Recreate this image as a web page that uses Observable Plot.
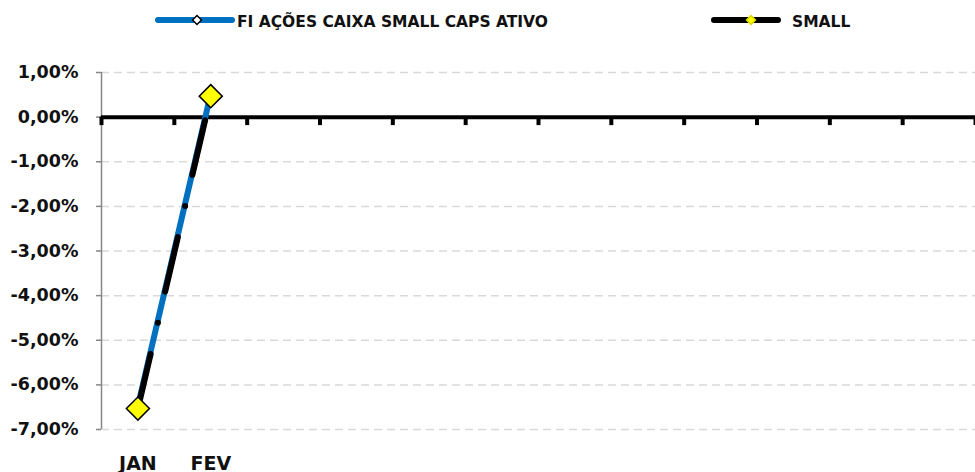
<!DOCTYPE html>
<html>
<head>
<meta charset="utf-8">
<script src="https://cdn.jsdelivr.net/npm/d3@7"></script>
<script src="https://cdn.jsdelivr.net/npm/@observablehq/plot@0.6"></script>
<style>
  html, body { margin: 0; padding: 0; background: #fff; }
  #legend { display: block; }
  #chart svg { overflow: visible; }
</style>
</head>
<body>
<svg id="legend" width="975" height="40"></svg>
<div id="chart"></div>
<script>
// ---- data ----
const months = ["JAN","FEV","MAR","ABR","MAI","JUN","JUL","AGO","SET","OUT","NOV","DEZ"];
const shownMonths = ["JAN","FEV"];
const fiName = "FI AÇÕES CAIXA SMALL CAPS ATIVO";
const smallName = "SMALL";
const fiValues = [-6.47, 0.52];
const smallValues = [-6.53, 0.47];
const yTicks = [-7, -6, -5, -4, -3, -2, -1, 0, 1];

// ---- derived tables ----
const fiData = shownMonths.map((m, i) => ({month: m, i: months.indexOf(m), v: fiValues[i]}));
const smallData = shownMonths.map((m, i) => ({month: m, i: months.indexOf(m), v: smallValues[i]}));
const boundaries = d3.range(months.length + 1).map(k => k - 0.5);
const fmt = v => v.toFixed(2).replace(".", ",") + "%";

const FONT = "DejaVu Sans, sans-serif";
const BLUE = "#0070C0";

// ---- legend ----
const leg = d3.select("#legend");
const legendItems = [
  {name: fiName, color: BLUE, x1: 158, x2: 232, mx: 197, mFill: "#ffffff", mStroke: "#000", mr: 4.5, tx: 237},
  {name: smallName, color: "#000", x1: 714, x2: 778, mx: 751, mFill: "#ffff00", mStroke: "#d8d800", mr: 4.5, tx: 792}
];
for (const it of legendItems) {
  leg.append("line").attr("x1", it.x1).attr("x2", it.x2).attr("y1", 20).attr("y2", 20)
    .attr("stroke", it.color).attr("stroke-width", 6).attr("stroke-linecap", "round");
  leg.append("path")
    .attr("d", `M${it.mx},${20 - it.mr}L${it.mx + it.mr},20L${it.mx},${20 + it.mr}L${it.mx - it.mr},20Z`)
    .attr("fill", it.mFill).attr("stroke", it.mStroke).attr("stroke-width", 1.5);
  leg.append("text").attr("x", it.tx).attr("y", 26.5).text(it.name)
    .attr("font-family", FONT).attr("font-weight", "bold").attr("font-size", 15.5).attr("fill", "#111");
}

// ---- chart ----
const chart = Plot.plot({
  width: 975,
  height: 432,
  marginLeft: 101,
  marginRight: 0,
  marginTop: 32,
  marginBottom: 43,
  style: {fontFamily: FONT, background: "#fff", overflow: "visible"},
  x: {domain: [-0.5, months.length - 0.5]},
  y: {domain: [-7, 1]},
  marks: [
    Plot.ruleY(yTicks, {stroke: "#d9d9d9", strokeWidth: 1.5, strokeDasharray: "8,5"}),
    Plot.ruleX([-0.5], {y1: -7, y2: 1, stroke: "#868686", strokeWidth: 1.5}),
    Plot.axisY({
      ticks: yTicks, tickSize: 5, tickPadding: 18, tickFormat: fmt,
      stroke: "#868686", strokeWidth: 1.5, fill: "#111",
      fontSize: 17.5, fontWeight: "bold", label: null
    }),
    Plot.axisX({
      ticks: shownMonths.map(m => months.indexOf(m)),
      tickFormat: i => months[i],
      tickSize: 0, tickPadding: 26.5,
      fill: "#111", fontSize: 19, fontWeight: "bold", label: null
    }),
    Plot.ruleY([0], {stroke: "#000", strokeWidth: 4}),
    Plot.ruleX(boundaries, {y1: 0, y2: -0.19, stroke: "#000", strokeWidth: 4}),
    Plot.line(fiData, {x: "i", y: "v", stroke: BLUE, strokeWidth: 6, strokeLinecap: "round"}),
    Plot.dot(fiData, {x: "i", y: "v", symbol: "diamond2", r: 4, fill: "#fff", stroke: "#000", strokeWidth: 1.5}),
    Plot.line(smallData, {x: "i", y: "v", stroke: "#000", strokeWidth: 6, strokeLinecap: "round", strokeDasharray: "56,32,0,32"}),
    Plot.dot(smallData, {x: "i", y: "v", symbol: "diamond2", r: 10.4, fill: "#ffff00", stroke: "#000", strokeWidth: 1.5})
  ]
});
document.getElementById("chart").appendChild(chart);
</script>
</body>
</html>
